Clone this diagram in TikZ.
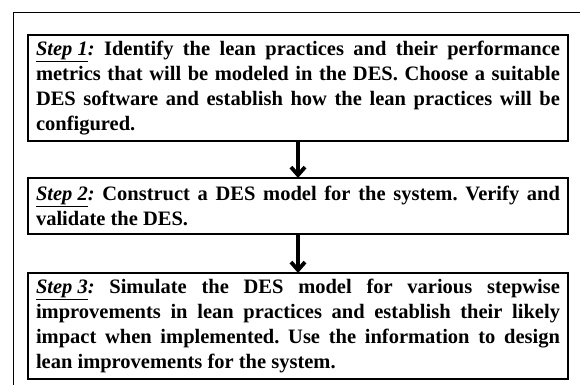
\documentclass[tikz,border=0pt]{standalone}
\usepackage{fontspec}
\setmainfont{Liberation Serif}
\usetikzlibrary{arrows.meta, positioning}

\tikzset{
    stepbox/.style={draw, line width=2.4pt, text width=524pt, inner xsep=8pt,
        inner ysep=6pt, outer sep=0pt, align=justify,
        font=\fontsize{20.5}{25}\selectfont\bfseries,
        execute at begin node={\hyphenpenalty=10000\relax\frenchspacing}},
    steparrow/.style={line width=3.8pt, -{Straight Barb[length=8pt, width=14pt]}}
}
\newcommand{\steplabel}[1]{\underline{\textit{Step #1}}\textit{:}}

\begin{document}
\begin{tikzpicture}[x=1pt, y=1pt]
    \useasboundingbox (0, 0) rectangle (580, -385);
    % outer frame
    \draw[line width=1pt] (13, -385) -- (13, -13) -- (580, -13);

    \node[stepbox, minimum height=105pt, anchor=north west] (step1) at (28, -35) {\steplabel{1} Identify the lean practices and their performance\linebreak metrics that will be modeled in the DES. Choose a suitable\linebreak DES software and establish how the lean practices will be\linebreak configured.};
    \node[stepbox, minimum height=56pt, below=37pt of step1] (step2) {\steplabel{2} Construct a DES model for the system. Verify and\linebreak validate the DES.};
    \node[stepbox, minimum height=106pt, below=39pt of step2] (step3) {\steplabel{3} Simulate the DES model for various stepwise\linebreak improvements in lean practices and establish their likely\linebreak impact when implemented. Use the information to design\linebreak lean improvements for the system.};

    \draw[steparrow] (step1) -- (step2);
    \draw[steparrow] (step2) -- (step3);
\end{tikzpicture}
\end{document}
